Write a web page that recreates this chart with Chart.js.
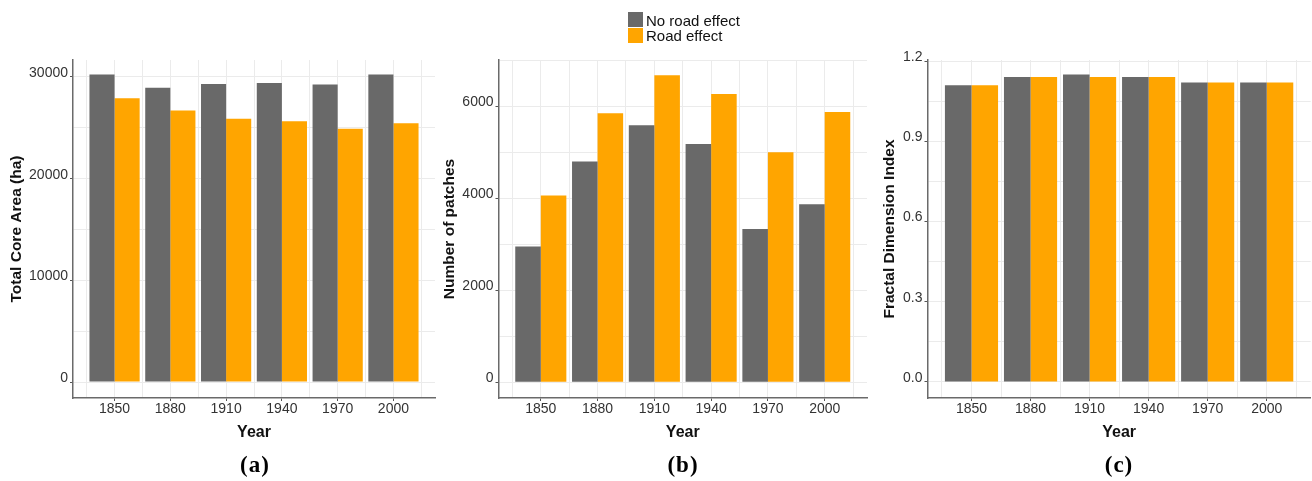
<!DOCTYPE html>
<html>
<head>
<meta charset="utf-8">
<script src="https://cdn.jsdelivr.net/npm/chart.js@4.4.0/dist/chart.umd.min.js"></script>
<style>
  html, body { margin: 0; padding: 0; background: #fff; }
  #wrap { position: relative; width: 1312px; height: 481px; overflow: hidden; font-family: "Liberation Sans", Arial, sans-serif; }
  canvas { position: absolute; top: 0; }
  .tag { position: absolute; top: 453px; font-family: "Liberation Serif", "Times New Roman", serif; font-weight: bold; font-size: 23px; line-height: 23px; letter-spacing: 1px; color: #000; transform: translateX(-50%); white-space: nowrap; }
  .lg-box { position: absolute; width: 15px; height: 15px; }
  .lg-text { position: absolute; font-size: 15px; line-height: 17px; color: #111; white-space: nowrap; }
</style>
</head>
<body>
<div id="wrap">
  <canvas id="cA" width="440" height="481" style="left:0px;width:440px;height:481px"></canvas>
  <canvas id="cB" width="430" height="481" style="left:440px;width:430px;height:481px"></canvas>
  <canvas id="cC" width="442" height="481" style="left:870px;width:442px;height:481px"></canvas>
  <div class="tag" style="left:255px">(a)</div>
  <div class="tag" style="left:683px">(b)</div>
  <div class="tag" style="left:1119px">(c)</div>
  <div id="legend"></div>
</div>
<script>
// ---------------- data ----------------
const years = ['1850', '1880', '1910', '1940', '1970', '2000'];
const seriesNames = ['No road effect', 'Road effect'];
const seriesColors = ['#696969', '#FFA500'];

// (a) Total Core Area (ha)
const coreNoRoad = [30250, 28950, 29300, 29400, 29250, 30250];
const coreRoad   = [27900, 26700, 25900, 25650, 24900, 25450];
const coreGrid   = [0, 5000, 10000, 15000, 20000, 25000, 30000];
const coreTicks  = [0, 10000, 20000, 30000];
const coreLabels = ['0', '10000', '20000', '30000'];

// (b) Number of patches
const patchNoRoad = [2950, 4800, 5590, 5180, 3330, 3870];
const patchRoad   = [4060, 5850, 6680, 6270, 5000, 5880];
const patchGrid   = [0, 1000, 2000, 3000, 4000, 5000, 6000, 7000];
const patchTicks  = [0, 2000, 4000, 6000];
const patchLabels = ['0', '2000', '4000', '6000'];

// (c) Fractal Dimension Index
const fdiNoRoad = [1.11, 1.14, 1.15, 1.14, 1.12, 1.12];
const fdiRoad   = [1.11, 1.14, 1.14, 1.14, 1.12, 1.12];
const fdiGrid   = [0, 0.15, 0.3, 0.45, 0.6, 0.75, 0.9, 1.05, 1.2];
const fdiTicks  = [0, 0.3, 0.6, 0.9, 1.2];
const fdiLabels = ['0.0', '0.3', '0.6', '0.9', '1.2'];

// ---------------- chart ----------------
const FONT = '"Liberation Sans", Arial, sans-serif';
Chart.defaults.font.family = FONT;

const xGrid = [];
for (let k = -1; k <= 2 * years.length - 1; k++) xGrid.push(k / 2);

function build(id, cfg) {
  const isMajorY = v => cfg.ticks.indexOf(v) >= 0;
  return new Chart(document.getElementById(id), {
    type: 'bar',
    data: {
      datasets: [
        { label: seriesNames[0], data: cfg.s1.map((v, i) => ({ x: i, y: v })), backgroundColor: seriesColors[0], borderWidth: 0 },
        { label: seriesNames[1], data: cfg.s2.map((v, i) => ({ x: i, y: v })), backgroundColor: seriesColors[1], borderWidth: 0 }
      ]
    },
    options: {
      responsive: false,
      animation: false,
      layout: { padding: { top: 60, right: cfg.padRight, bottom: 0, left: 0 } },
      plugins: { legend: { display: false }, tooltip: { enabled: false } },
      datasets: { bar: { categoryPercentage: 1.8, barPercentage: 1.0 } },
      scales: {
        x: {
          type: 'linear',
          min: -0.745, max: years.length - 1 + 0.745,
          offset: false,
          afterBuildTicks: s => { s.ticks = xGrid.map(v => ({ value: v })); },
          afterFit: s => { s.height = 83; },
          ticks: {
            autoSkip: false, maxRotation: 0, minRotation: 0, padding: 0,
            color: '#333', font: { size: 14 },
            callback: v => Number.isInteger(v) ? years[v] : ''
          },
          grid: {
            color: '#ebebeb', lineWidth: 1, offset: false,
            drawTicks: true, tickLength: 3,
            tickColor: c => (c.tick && Number.isInteger(c.tick.value)) ? '#555' : 'rgba(0,0,0,0)'
          },
          border: { display: true, color: '#6a6a6a', width: 1.5 },
          title: { display: true, text: 'Year', color: '#111', font: { size: 16, weight: 'bold' }, padding: { top: 0, bottom: 39 } }
        },
        y: {
          type: 'linear',
          min: cfg.min, max: cfg.max,
          afterBuildTicks: s => { s.ticks = cfg.grid.map(v => ({ value: v })); },
          afterFit: s => { s.width = cfg.yWidth; },
          ticks: {
            autoSkip: false, padding: 2, labelOffset: -4,
            color: '#333', font: { size: 14 },
            callback: v => { const i = cfg.ticks.indexOf(v); return i >= 0 ? cfg.labels[i] : ''; }
          },
          grid: {
            color: '#ebebeb', lineWidth: 1,
            drawTicks: true, tickLength: 3,
            tickColor: c => (c.tick && isMajorY(c.tick.value)) ? '#555' : 'rgba(0,0,0,0)'
          },
          border: { display: true, color: '#6a6a6a', width: 1.5 },
          title: { display: true, text: cfg.title, color: '#111', font: { size: 15.5, weight: 'bold' }, padding: { top: cfg.titlePad, bottom: 0 } }
        }
      }
    }
  });
}

build('cA', { s1: coreNoRoad, s2: coreRoad, grid: coreGrid, ticks: coreTicks, labels: coreLabels,
  min: -1570, max: 31670, yWidth: 73, padRight: 5, title: 'Total Core Area (ha)', titlePad: 7.7 });
build('cB', { s1: patchNoRoad, s2: patchRoad, grid: patchGrid, ticks: patchTicks, labels: patchLabels,
  min: -345, max: 7010, yWidth: 58.5, padRight: 3, title: 'Number of patches', titlePad: 0.5 });
build('cC', { s1: fdiNoRoad, s2: fdiRoad, grid: fdiGrid, ticks: fdiTicks, labels: fdiLabels,
  min: -0.06, max: 1.204, yWidth: 57.5, padRight: 1.3, title: 'Fractal Dimension Index', titlePad: 10.5 });

// legend (stacked boxes, as in the figure)
const lg = document.getElementById('legend');
seriesNames.forEach((name, i) => {
  const box = document.createElement('div');
  box.className = 'lg-box';
  box.style.left = '628px';
  box.style.top = (12 + i * 15.5) + 'px';
  box.style.background = seriesColors[i];
  lg.appendChild(box);
  const t = document.createElement('div');
  t.className = 'lg-text';
  t.style.left = '646px';
  t.style.top = (11.5 + i * 15.5) + 'px';
  t.textContent = name;
  lg.appendChild(t);
});
</script>
</body>
</html>
